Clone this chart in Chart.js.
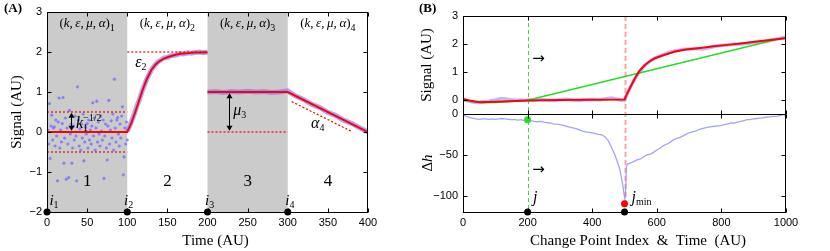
<!DOCTYPE html>
<html><head><meta charset="utf-8">
<script src="https://cdn.jsdelivr.net/npm/chart.js@4.4.1/dist/chart.umd.min.js"></script>
<style>
html,body{margin:0;padding:0;background:#fff;width:830px;height:251px;overflow:hidden}
canvas{position:absolute;top:0}
#a{left:0}
#b{left:415px}
.tag{position:absolute;top:0;font:bold 13px "Liberation Serif",serif;color:#000}
</style></head><body>
<canvas id="a" width="400" height="251"></canvas>
<canvas id="b" width="415" height="251"></canvas>
<div class="tag" style="left:4px">(A)</div>
<div class="tag" style="left:419px">(B)</div>
<script>
// ---- panel A data
const aTicksX = [0, 50, 100, 150, 200, 250, 300, 350, 400];
const aTicksY = [-2, -1, 0, 1, 2, 3];
const aShaded = [[0, 100], [200, 300]];
const aBoundaries = [0, 100, 200, 300];
const aNoiseTime = [1,2,3,4,5,6,7,8,9,10,11,12,13,14,15,16,17,18,19,20,21,22,23,24,25,26,27,28,29,30,31,32,33,34,35,36,37,38,39,40,41,42,43,44,45,46,47,48,49,50,51,52,53,54,55,56,57,58,59,60,61,62,63,64,65,66,67,68,69,70,71,72,73,74,75,76,77,78,79,80,81,82,83,84,85,86,87,88,89,90,91,92,93,94,95,96,97,98,99,100];
const aNoiseSignal = [0.05,-0.3,0.71,-0.66,0.15,0.42,-0.2,0.1,0.13,-0.35,0.3,-0.1,-1.22,0.25,0.85,-0.4,0.05,-0.25,0.21,0.86,-0.78,-0.15,0.35,-1.18,0.1,-0.3,-1.14,0.54,-0.05,0.2,-0.78,-0.4,0.15,-0.2,0.4,-0.1,-1.22,1.13,0.3,-0.35,0.08,-0.45,0.2,-0.15,0.45,-0.72,-0.25,0.12,-0.05,0.21,-0.4,0.3,-0.2,0.05,-0.3,0.15,0.73,-0.1,0.35,-0.45,0.1,0.77,-0.25,0.25,-0.05,-0.35,0.4,0.02,-0.2,0.3,-1.16,-0.1,0.2,-0.4,-0.7,0.15,0.79,-0.3,0.05,0.28,-0.15,0.45,-0.45,1.32,0.1,-0.25,0.3,0.36,-0.05,-0.35,0.2,-0.15,0.4,0.63,-1.07,-0.62,0.1,-0.3,0.25,-0.2];
const aRiseTime = [0, 100, 105, 110, 115, 120, 125, 130, 135, 140, 145, 150, 155, 160, 165, 170, 175, 180, 185, 190, 195, 200];
const aRiseFit = [0, 0, 0.22, 0.5, 0.8, 1.1, 1.35, 1.55, 1.68, 1.77, 1.83, 1.87, 1.9, 1.93, 1.95, 1.96, 1.97, 1.98, 1.985, 1.99, 1.99, 1.995];
const aRiseSignalTime = [100, 103, 106, 109, 112, 115, 118, 121, 124, 127, 130, 134, 138, 142, 146, 150, 155, 160, 165, 170, 175, 180, 185, 190, 195, 200];
const aRiseSignal = [0.02, 0.15, 0.3, 0.46, 0.65, 0.8, 0.99, 1.15, 1.3, 1.43, 1.55, 1.66, 1.75, 1.8, 1.85, 1.86, 1.91, 1.92, 1.96, 1.95, 1.98, 1.97, 1.99, 2.0, 1.98, 2.0];
const aStepTime = [200, 300, 400];
const aStepFit = [1, 1, 0];
const aStepSignalTime = [200, 210, 220, 230, 240, 250, 260, 270, 280, 290, 300, 310, 320, 330, 340, 350, 360, 370, 380, 390, 400];
const aStepSignal = [1.0, 1.01, 0.99, 1.01, 1.0, 1.02, 1.0, 1.01, 0.99, 1.0, 1.03, 0.9, 0.81, 0.69, 0.61, 0.49, 0.41, 0.29, 0.21, 0.1, 0.0];
const aGuideNoiseTime = [0, 100];
const aGuideNoiseUpper = [0.5, 0.5];
const aGuideNoiseLower = [-0.5, -0.5];
const aGuidePlateauTime = [100, 200];
const aGuidePlateau = [2, 2];
const aGuideBaseTime = [200, 300];
const aGuideBase = [0, 0];
const aGuideSlopeTime = [305, 380];
const aGuideSlope = [0.76, 0.01];

// ---- panel B data
const bTicksX = [0, 200, 400, 600, 800, 1000];
const bTicksSignal = [0, 1, 2, 3];
const bTicksDelta = [-100, -50, 0];
const bSignalTime = [0,10,20,30,40,50,60,70,80,90,100,110,120,130,140,150,160,170,180,190,200,220,240,260,280,300,320,340,360,380,400,420,440,460,470,480,490,500,510,520,530,540,550,560,570,580,590,600,620,640,660,680,700,720,740,760,780,800,820,840,860,880,900,920,940,960,980,1000];
const bSignal = [0.02,-0.02,-0.05,-0.07,-0.08,-0.07,-0.06,-0.05,-0.04,-0.02,0.0,0.03,0.05,0.04,0.02,0.01,0.0,-0.01,0.0,-0.02,0.0,-0.01,0.02,0.0,-0.02,0.01,0.03,0.0,-0.02,0.01,0.02,0.0,0.04,0.07,0.05,0.02,-0.01,0.0,0.28,0.5,0.72,0.9,1.05,1.2,1.3,1.4,1.47,1.53,1.62,1.71,1.76,1.8,1.82,1.84,1.82,1.86,1.92,1.95,1.96,1.99,2.0,2.02,2.05,2.07,2.1,2.15,2.2,2.25];
const bFitTime = [0, 20, 50, 100, 200, 300, 400, 500, 510, 520, 532, 545, 563, 580, 594, 620, 656, 690, 728, 770, 811, 860, 904, 950, 1000];
const bFit = [0.04, -0.02, -0.08, -0.06, -0.02, 0.0, 0.01, 0.02, 0.27, 0.5, 0.77, 1.02, 1.25, 1.4, 1.49, 1.6, 1.73, 1.8, 1.85, 1.91, 1.96, 2.02, 2.08, 2.14, 2.21];
const bTrialTime = [0, 30, 60, 100, 150, 200, 1000];
const bTrial = [0.0, -0.06, -0.1, -0.09, -0.05, -0.01, 2.24];
const bDeltaTime = [0,10,20,30,40,50,60,70,80,90,100,110,120,130,140,150,160,170,180,190,200,210,220,230,240,250,260,270,280,290,300,310,320,330,340,350,360,370,380,390,400,410,420,430,440,450,460,470,480,485,490,495,498,501,503,506,510,520,530,540,550,560,570,580,590,600,610,620,630,640,650,660,670,680,690,700,710,720,730,740,750,760,770,780,790,800,810,820,830,840,850,860,870,880,890,900,910,920,930,940,950,960,970,980,990,995,1000];
const bDelta = [-1,-3,-4,-5,-6,-6.5,-6,-6,-6.5,-6,-6.5,-6,-5.5,-6,-6.5,-7,-7,-7.5,-7,-8,-7.5,-8,-9,-9.5,-9,-10,-10.5,-11,-12,-12.5,-13,-14,-15,-16,-17,-18,-19.5,-21,-22,-22.5,-23,-24,-25,-25.5,-28,-33,-41,-50,-61,-67,-77,-88,-97,-104,-98,-64,-61,-60,-58,-56,-55,-52,-50,-49,-47,-44,-42,-39,-37,-35,-32,-30,-29,-27,-25,-23,-22,-21,-19,-18,-17,-16,-15.5,-15,-14.5,-14,-13,-12,-11,-11,-10,-9,-8,-7,-7,-6,-5.5,-5,-4.5,-4,-3.5,-3,-3,-2,-1,0,-4];
const bCandidates = [200, 500];
const bProbeTime = [200];
const bProbe = [-7];
const bBestTime = [500];
const bBest = [-110];

// ---- helpers
const $ = id => document.getElementById(id);
const SANS = '"Liberation Sans", Arial, sans-serif';
const SERIF = '"Liberation Serif", "Times New Roman", serif';
const it = s => `italic ${s}px ${SERIF}`;
const rm = s => `${s}px ${SERIF}`;
const minus = v => String(v).replace('-', '\u2212');
const pts = (xs, ys) => xs.map((x, i) => ({x, y: ys[i]}));
const RED = '#ff0000', BLUE = 'rgba(120,120,255,0.65)', GREEN = '#22dd22';

function rich(ctx, parts, x, y, align){
  let w = 0;
  for(const p of parts){ ctx.font = p[1]; if(!p[3]) w += ctx.measureText(p[0]).width; }
  let cx = align === 'center' ? x - w / 2 : align === 'right' ? x - w : x;
  ctx.textAlign = 'left'; ctx.textBaseline = 'alphabetic'; ctx.fillStyle = '#000';
  for(const p of parts){
    ctx.font = p[1];
    ctx.fillText(p[0], cx, y + (p[2] || 0));
    if(!p[3]) cx += ctx.measureText(p[0]).width;
  }
}
function arrowHead(ctx, x, y, dir){
  ctx.beginPath(); ctx.moveTo(x, y); ctx.lineTo(x - 3, y - 5 * dir); ctx.lineTo(x + 3, y - 5 * dir); ctx.closePath(); ctx.fill();
}
const tuple = n => [['(', rm(13)], ['k', it(13)], [',\u2009', rm(13)], ['\u03b5', it(13)], [',\u2009', rm(13)], ['\u03bc', it(13)], [',\u2009', rm(13)], ['\u03b1', it(13)], [')', rm(13)], [n, rm(10), 4]];

const figure = {
  id: 'figure',
  beforeDatasetsDraw(chart, args, o){
    const {ctx, chartArea: ca, scales: {x}} = chart;
    ctx.save();
    ctx.fillStyle = '#cbcbcb';
    for(const [a, b] of o.shaded || []){
      const l = x.getPixelForValue(a), r = x.getPixelForValue(b);
      ctx.fillRect(l, ca.top, r - l, ca.bottom - ca.top);
    }
    for(const g of o.guides || []){
      ctx.strokeStyle = g.color; ctx.lineWidth = g.width; ctx.setLineDash(g.dash);
      const px = Math.round(x.getPixelForValue(g.t)) + 0.5;
      ctx.beginPath(); ctx.moveTo(px, ca.top); ctx.lineTo(px, ca.bottom); ctx.stroke();
    }
    ctx.restore();
  },
  afterDatasetsDraw(chart, args, o){
    const {ctx, chartArea: ca, scales} = chart;
    const x = scales.x;
    ctx.save();
    ctx.strokeStyle = '#000'; ctx.lineWidth = 1;
    const L = Math.round(ca.left) + .5, R = Math.round(ca.right) - .5;
    for(const s of Object.values(scales)){
      if(s.axis !== 'y') continue;
      const T = Math.round(s.top) + .5, B = Math.round(s.bottom) + .5;
      ctx.strokeRect(L, T, R - L, B - T);
      ctx.beginPath();
      for(const tk of x.ticks){
        const p = Math.round(x.getPixelForValue(tk.value)) + .5;
        ctx.moveTo(p, B); ctx.lineTo(p, B - 4); ctx.moveTo(p, T); ctx.lineTo(p, T + 4);
      }
      for(const tk of s.ticks){
        const p = Math.round(s.getPixelForValue(tk.value)) + .5;
        ctx.moveTo(L, p); ctx.lineTo(L + 4, p); ctx.moveTo(R, p); ctx.lineTo(R - 4, p);
      }
      ctx.stroke();
    }
    ctx.fillStyle = '#000';
    for(const a of o.arrows || []){
      const s = scales[a.axis];
      const px = Math.round(x.getPixelForValue(a.t)) + .5;
      const y1 = s.getPixelForValue(a.from), y2 = s.getPixelForValue(a.to);
      ctx.beginPath(); ctx.moveTo(px, y1 + 4); ctx.lineTo(px, y2 - 4); ctx.stroke();
      arrowHead(ctx, px, y1, -1); arrowHead(ctx, px, y2, 1);
    }
    for(const n of o.notes || []){
      const s = scales[n.axis];
      rich(ctx, n.parts, x.getPixelForValue(n.t), s.getPixelForValue(n.v), n.align);
    }
    if(o.xTitle) rich(ctx, [[o.xTitle.text, rm(15)]], x.getPixelForValue(o.xTitle.t), chart.height - 6, 'center');
    for(const r of o.yTitles || []){
      const s = scales[r.axis];
      ctx.save(); ctx.translate(r.x, (s.top + s.bottom) / 2); ctx.rotate(-Math.PI / 2);
      rich(ctx, r.parts, 0, 5, 'center'); ctx.restore();
    }
    ctx.restore();
  }
};

function xAxis(min, max, ticks){
  return {type: 'linear', min, max,
    afterBuildTicks: s => { s.ticks = ticks.map(value => ({value})); },
    afterFit: s => { s.height = 39; },
    grid: {display: false, drawTicks: false}, border: {display: false},
    ticks: {font: {family: SANS, size: 11}, color: '#000', padding: 4, maxRotation: 0, autoSkip: false, callback: v => minus(v)}};
}
function yAxis(min, max, ticks, width, extra){
  return Object.assign({type: 'linear', min, max,
    afterBuildTicks: s => { s.ticks = ticks.map(value => ({value})); },
    afterFit: s => { s.width = width; },
    grid: {display: false, drawTicks: false}, border: {display: false},
    ticks: {font: {family: SANS, size: 11}, color: '#000', padding: 5, autoSkip: false, callback: v => minus(v)}}, extra || {});
}
const line = (data, color, width, extra) => Object.assign({data, borderColor: color, borderWidth: width, pointRadius: 0, fill: false, tension: 0}, extra || {});
const dots = (data, color, extra) => Object.assign({data, showLine: false, pointRadius: 3.5, pointBackgroundColor: color, pointBorderWidth: 0, clip: false}, extra || {});

// ---- panel A
new Chart($('a'), {
  type: 'line',
  data: {datasets: [
    dots(pts(aBoundaries, aBoundaries.map(() => -2)), '#000'),
    line(pts(aRiseTime, aRiseFit), RED, 2),
    line(pts(aStepTime, aStepFit), RED, 2),
    line(pts(aGuideNoiseTime, aGuideNoiseUpper), RED, 1.2, {borderDash: [2, 2]}),
    line(pts(aGuideNoiseTime, aGuideNoiseLower), RED, 1.2, {borderDash: [2, 2]}),
    line(pts(aGuidePlateauTime, aGuidePlateau), RED, 1.2, {borderDash: [2, 2]}),
    line(pts(aGuideBaseTime, aGuideBase), RED, 1.2, {borderDash: [2, 2]}),
    line(pts(aGuideSlopeTime, aGuideSlope), RED, 1.2, {borderDash: [2, 2]}),
    line(pts(aRiseSignalTime, aRiseSignal), BLUE, 5),
    line(pts(aStepSignalTime, aStepSignal), BLUE, 5),
    dots(pts(aNoiseTime, aNoiseSignal), 'rgba(110,110,255,0.75)', {pointRadius: 1.6, clip: true})
  ]},
  options: {
    responsive: false, animation: false, events: [],
    layout: {padding: {top: 12, right: 32, left: 0, bottom: 0}},
    scales: {
      x: xAxis(0, 400, aTicksX),
      y: yAxis(-2, 3, aTicksY, 47, {title: {display: true, text: 'Signal (AU)', color: '#000', font: {family: SERIF, size: 15}, padding: {top: 8, bottom: 0}}})
    },
    plugins: {
      legend: {display: false}, tooltip: {enabled: false},
      figure: {
        shaded: aShaded,
        arrows: [{axis: 'y', t: 29.5, from: 0.48, to: 0.03}, {axis: 'y', t: 227, from: 0.97, to: 0.03}],
        notes: [
          {axis: 'y', t: 50, v: 2.63, align: 'center', parts: tuple('1')},
          {axis: 'y', t: 150, v: 2.63, align: 'center', parts: tuple('2')},
          {axis: 'y', t: 250, v: 2.63, align: 'center', parts: tuple('3')},
          {axis: 'y', t: 350, v: 2.63, align: 'center', parts: tuple('4')},
          {axis: 'y', t: 50, v: -1.36, align: 'center', parts: [['1', rm(17)]]},
          {axis: 'y', t: 150, v: -1.36, align: 'center', parts: [['2', rm(17)]]},
          {axis: 'y', t: 250, v: -1.36, align: 'center', parts: [['3', rm(17)]]},
          {axis: 'y', t: 350, v: -1.36, align: 'center', parts: [['4', rm(17)]]},
          {axis: 'y', t: 3, v: -1.82, align: 'left', parts: [['i', it(15)], ['1', rm(10), 3]]},
          {axis: 'y', t: 96, v: -1.82, align: 'left', parts: [['i', it(15)], ['2', rm(10), 3]]},
          {axis: 'y', t: 197, v: -1.82, align: 'left', parts: [['i', it(15)], ['3', rm(10), 3]]},
          {axis: 'y', t: 297, v: -1.82, align: 'left', parts: [['i', it(15)], ['4', rm(10), 3]]},
          {axis: 'y', t: 110, v: 1.62, align: 'left', parts: [['\u03b5', it(16)], ['2', rm(10), 3]]},
          {axis: 'y', t: 232, v: 0.42, align: 'left', parts: [['\u03bc', it(16)], ['3', rm(10), 3]]},
          {axis: 'y', t: 329, v: 0.09, align: 'left', parts: [['\u03b1', it(16)], ['4', rm(10), 3]]},
          {axis: 'y', t: 36, v: 0.09, align: 'left', parts: [['k', it(16)], ['1', rm(10), 3, true], ['\u22121/2', rm(10), -7]]}
        ],
        xTitle: {t: 210, text: 'Time (AU)'}
      }
    }
  },
  plugins: [figure]
});

// ---- panel B
new Chart($('b'), {
  type: 'line',
  data: {datasets: [
    dots(pts(bCandidates, bCandidates.map(() => -120)), '#000', {yAxisID: 'yD'}),
    dots(pts(bProbeTime, bProbe), GREEN, {yAxisID: 'yD'}),
    dots(pts(bBestTime, bBest), RED, {yAxisID: 'yD'}),
    line(pts(bFitTime, bFit), RED, 2, {yAxisID: 'yS'}),
    line(pts(bTrialTime, bTrial), GREEN, 1.5, {yAxisID: 'yS'}),
    line(pts(bSignalTime, bSignal), 'rgba(140,140,255,0.6)', 3.5, {yAxisID: 'yS'}),
    line(pts(bDeltaTime, bDelta), 'rgba(140,140,255,0.8)', 1.3, {yAxisID: 'yD'})
  ]},
  options: {
    responsive: false, animation: false, events: [],
    layout: {padding: {top: 16, right: 44, left: 0, bottom: 0}},
    scales: {
      x: xAxis(0, 1000, bTicksX),
      yD: yAxis(-120, 0, bTicksDelta, 48, {position: 'left', stack: 'b', stackWeight: 1}),
      yS: yAxis(-0.5, 3, bTicksSignal, 48, {position: 'left', stack: 'b', stackWeight: 1,
        title: {display: true, text: 'Signal (AU)', color: '#000', font: {family: SERIF, size: 15}, padding: {top: 3, bottom: 0}}})
    },
    plugins: {
      legend: {display: false}, tooltip: {enabled: false},
      figure: {
        guides: [{t: 200, color: 'rgba(40,200,40,0.85)', width: 1, dash: [4, 3]}, {t: 500, color: 'rgba(255,90,90,0.55)', width: 2, dash: [5, 3]}],
        notes: [
          {axis: 'yS', t: 234, v: 1.32, align: 'center', parts: [['\u2192', `15px "DejaVu Sans", sans-serif`]]},
          {axis: 'yD', t: 234, v: -73, align: 'center', parts: [['\u2192', `15px "DejaVu Sans", sans-serif`]]},
          {axis: 'yD', t: 217, v: -108, align: 'left', parts: [['j', it(16)]]},
          {axis: 'yD', t: 522, v: -108, align: 'left', parts: [['j', it(16)], ['min', rm(10), 3]]}
        ],
        xTitle: {t: 542, text: 'Change Point Index  &  Time  (AU)'},
        yTitles: [{axis: 'yD', x: 12, parts: [['\u0394', rm(15)], ['h', it(15)]]}]
      }
    }
  },
  plugins: [figure]
});
</script></body></html>
